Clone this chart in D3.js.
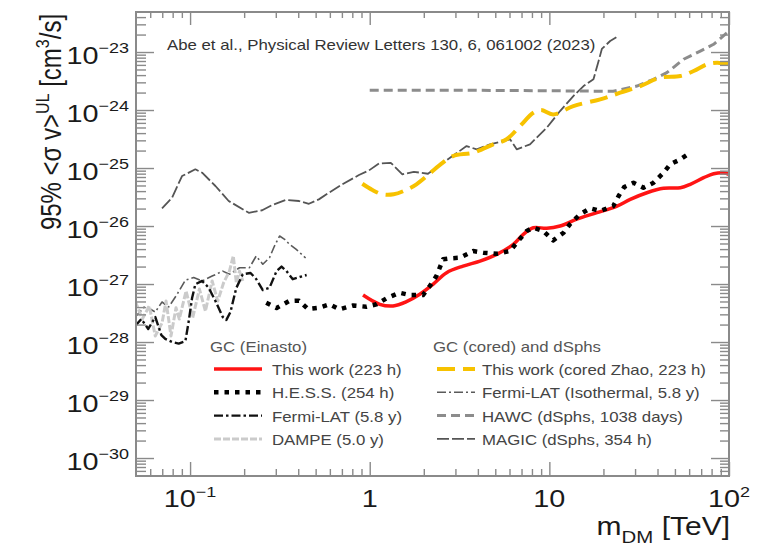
<!DOCTYPE html>
<html><head><meta charset="utf-8">
<script src="https://cdn.jsdelivr.net/npm/d3@7/dist/d3.min.js"></script>
<style>html,body{margin:0;padding:0;background:#fff;} svg{display:block;}</style>
</head><body>
<svg id="chart" width="760" height="550"></svg>
<script>
// ---------------- DATA (mass in TeV, <sigma v> upper limit in cm^3/s) ----------------
const xMajorTicks = [0.1, 1, 10, 100];
const xTickBase = ["10", "1", "10", "10"];
const xTickExp = ["\u22121", "", "", "2"];
const yMajorTicks = [1e-30, 1e-29, 1e-28, 1e-27, 1e-26, 1e-25, 1e-24, 1e-23];
const yTickExp = ["\u221230", "\u221229", "\u221228", "\u221227", "\u221226", "\u221225", "\u221224", "\u221223"];

const thisWorkEinasto = [[0.918,6.46e-28],[1.137,4.47e-28],[1.349,4.18e-28],[1.602,4.96e-28],[1.90,6.64e-28],[2.25,9.9e-28],[2.68,1.57e-27],[3.31,2.04e-27],[4.11,2.49e-27],[5.09,3.25e-27],[6.30,4.83e-27],[7.16,7.19e-27],[8.14,9.35e-27],[9.67,9.12e-27],[11.47,1.0e-26],[14.2,1.31e-26],[18.4,1.70e-26],[23.8,2.21e-26],[28.2,2.88e-26],[34.9,3.75e-26],[43.2,4.47e-26],[53.6,4.57e-26],[60.9,5.24e-26],[72.3,6.81e-26],[82.1,7.97e-26],[93.4,8.3e-26],[100,7.8e-26]];

const hess = [[0.2654,4.77e-28],[0.303,3.86e-28],[0.356,5.09e-28],[0.404,5.15e-28],[0.453,3.70e-28],[0.526,3.90e-28],[0.598,4.47e-28],[0.680,3.66e-28],[0.807,4.26e-28],[0.958,4.06e-28],[1.090,4.47e-28],[1.239,5.66e-28],[1.47,7.08e-28],[1.67,6.46e-28],[1.98,6.46e-28],[2.16,9.24e-28],[2.35,1.37e-27],[2.56,2.67e-27],[2.79,2.77e-27],[3.18,2.84e-27],[3.77,3.70e-27],[4.29,3.47e-27],[5.09,3.33e-27],[6.04,3.70e-27],[6.58,5.15e-27],[7.48,8.2e-27],[8.14,9.35e-27],[9.26,8.2e-27],[10.5,5.66e-27],[12.0,7.66e-27],[13.0,1.07e-26],[14.8,1.59e-26],[16.9,2.02e-26],[19.2,1.82e-26],[22.7,2.21e-26],[24.3,3.29e-26],[26.1,4.70e-26],[29.4,5.58e-26],[33.4,4.57e-26],[38.0,5.58e-26],[43.2,8.3e-26],[47.1,1.16e-25],[53.6,1.41e-25],[60.9,1.84e-25]];

const fermiLat = [[0.0495,1.89e-28],[0.0535,2.49e-28],[0.0585,1.68e-28],[0.064,2.70e-28],[0.0692,1.32e-28],[0.0728,1.13e-28],[0.0794,1.0e-28],[0.0864,9.4e-29],[0.0942,1.04e-28],[0.0983,2.30e-28],[0.1026,5.74e-28],[0.107,9.9e-28],[0.1167,1.13e-27],[0.127,8.63e-28],[0.1384,5.09e-28],[0.152,2.70e-28],[0.159,2.39e-28],[0.1678,3.29e-28],[0.1807,8.5e-28],[0.1965,1.47e-27],[0.217,1.55e-27],[0.2334,1.22e-27],[0.254,7.88e-28],[0.2768,8.63e-28],[0.303,1.67e-27],[0.323,2.00e-27],[0.344,1.67e-27],[0.373,1.21e-27],[0.4074,1.32e-27],[0.4455,1.43e-27]];

const dampe = [[0.0495,5.09e-28],[0.0542,2.49e-28],[0.0593,4.18e-28],[0.064,1.27e-28],[0.0698,2.13e-28],[0.0735,5.09e-28],[0.0783,1.27e-28],[0.0835,3.90e-28],[0.0871,2.49e-28],[0.095,7.57e-28],[0.1034,2.62e-28],[0.1127,8.2e-28],[0.1217,3.42e-28],[0.1327,1.13e-27],[0.1426,5.09e-28],[0.1535,1.04e-27],[0.1656,1.67e-27],[0.174,3.04e-27],[0.181,1.04e-27],[0.1884,1.67e-27],[0.1965,1.13e-27]];

const thisWorkZhao = [[0.910,5.36e-26],[1.035,4.18e-26],[1.177,3.52e-26],[1.36,3.52e-26],[1.567,4.09e-26],[1.82,5.24e-26],[2.11,7.57e-26],[2.46,1.13e-25],[2.91,1.61e-25],[3.77,1.84e-25],[4.87,2.56e-25],[5.78,3.13e-25],[6.87,5.3e-25],[8.14,8.97e-25],[8.99,1.0e-24],[10.5,8.4e-25],[13.6,1.17e-24],[19.2,1.53e-24],[24.8,1.99e-24],[32.1,2.59e-24],[41.4,3.61e-24],[53.6,3.86e-24],[63.6,4.70e-24],[75.5,6.13e-24],[85.9,6.53e-24],[100,6.13e-24]];

const fermiIso = [[0.0495,2.70e-28],[0.0563,4.18e-28],[0.064,3.29e-28],[0.0698,4.9e-28],[0.076,4.01e-28],[0.0849,6.73e-28],[0.0942,1.17e-27],[0.1047,1.29e-27],[0.1167,1.13e-27],[0.1327,1.37e-27],[0.152,1.67e-27],[0.1656,1.47e-27],[0.1884,1.91e-27],[0.214,1.91e-27],[0.2334,3.04e-27],[0.254,2.19e-27],[0.2768,2.84e-27],[0.295,4.52e-27],[0.315,6.73e-27],[0.336,5.90e-27],[0.358,4.83e-27],[0.390,3.96e-27],[0.4397,2.81e-27]];

const hawc = [[1.0,2.2e-24],[3.0,2.2e-24],[10,2.15e-24],[22.7,2.1e-24],[30.7,2.59e-24],[38.0,3.38e-24],[45.1,4.40e-24],[55.9,7.5e-24],[69.2,1.04e-23],[82.1,1.36e-23],[100,2.3e-23]];

const magic = [[0.0698,2.02e-26],[0.0794,3.08e-26],[0.0902,7.28e-26],[0.107,9.5e-26],[0.1167,8.3e-26],[0.1384,4.9e-26],[0.164,2.7e-26],[0.2123,1.69e-26],[0.252,1.87e-26],[0.2866,2.30e-26],[0.340,2.81e-26],[0.404,2.70e-26],[0.4586,2.42e-26],[0.521,2.88e-26],[0.593,3.75e-26],[0.704,5.24e-26],[0.871,7.57e-26],[0.991,9.1e-26],[1.127,1.20e-25],[1.31,1.23e-25],[1.52,7.8e-26],[1.76,8.6e-26],[2.11,7.97e-26],[2.56,1.23e-25],[3.46,2.39e-25],[3.94,2.10e-25],[4.67,2.56e-25],[5.54,2.92e-25],[6.04,3.13e-25],[6.58,2.10e-25],[7.80,2.56e-25],[9.67,4.95e-25],[11.47,9.6e-25],[13.6,1.74e-24],[15.5,2.59e-24],[17.6,3.38e-24],[18.8,7.0e-24],[19.6,1.13e-23],[21.8,1.55e-23],[24.2,1.89e-23]];

const legendLeftTitle = "GC (Einasto)";
const legendLeftLabels = ["This work (223 h)", "H.E.S.S. (254 h)", "Fermi-LAT (5.8 y)", "DAMPE (5.0 y)"];
const legendRightTitle = "GC (cored) and dSphs";
const legendRightLabels = ["This work (cored Zhao, 223 h)", "Fermi-LAT (Isothermal, 5.8 y)", "HAWC (dSphs, 1038 days)", "MAGIC (dSphs, 354 h)"];
const citation = "Abe et al., Physical Review Letters 130, 6, 061002 (2023)";

// ---------------- DRAWING ----------------
const svg = d3.select("#chart");
const L = 136, R = 729, T = 12, B = 476;
const SX = 1.2; // horizontal text stretch of the reference
const FONT = "'Liberation Sans', Arial, Helvetica, sans-serif";

const x = d3.scaleLog().domain([0.05, 100]).range([L, R]);
const y = d3.scaleLog().domain([Math.pow(10, -30.31), Math.pow(10, -22.31)]).range([B, T]);

const styles = {
  thisWorkEinasto: {stroke: "#ff1414", width: 3.5, dash: null, curve: d3.curveCatmullRom},
  hess: {stroke: "#000", width: 4.5, dash: "4.5 6", curve: d3.curveLinear},
  fermiLat: {stroke: "#111", width: 2.4, dash: "9 3 2.5 3", curve: d3.curveLinear},
  dampe: {stroke: "#cbcbcb", width: 3, dash: "7 2", curve: d3.curveLinear},
  thisWorkZhao: {stroke: "#f7c200", width: 4, dash: "18 8", curve: d3.curveCatmullRom},
  fermiIso: {stroke: "#5a5a5a", width: 1.6, dash: "9 3 2 3", curve: d3.curveLinear},
  hawc: {stroke: "#8c8c8c", width: 3, dash: "9 5", curve: d3.curveLinear},
  magic: {stroke: "#555", width: 1.8, dash: "12 3", curve: d3.curveLinear}
};
const seriesData = {thisWorkEinasto, hess, fermiLat, dampe, thisWorkZhao, fermiIso, hawc, magic};
const drawOrder = ["magic", "fermiIso", "hawc", "thisWorkZhao", "dampe", "fermiLat", "thisWorkEinasto", "hess"];

svg.append("defs").append("clipPath").attr("id", "clip")
  .append("rect").attr("x", L).attr("y", T).attr("width", R - L).attr("height", B - T);

const plot = svg.append("g").attr("clip-path", "url(#clip)");
drawOrder.forEach(k => {
  const s = styles[k];
  const line = d3.line().x(d => x(d[0])).y(d => y(d[1])).curve(s.curve);
  plot.append("path").datum(seriesData[k]).attr("d", line)
    .attr("fill", "none").attr("stroke", s.stroke).attr("stroke-width", s.width)
    .attr("stroke-dasharray", s.dash).attr("stroke-linejoin", "round");
});

// ---------- axes (ticks inward on all four sides) ----------
const tickColor = "#8a8a8a";
function minorTicks(lo, hi) {
  const out = [];
  for (let e = Math.floor(Math.log10(lo)) - 1; e <= Math.ceil(Math.log10(hi)); e++) {
    for (let m = 2; m <= 9; m++) {
      const v = m * Math.pow(10, e);
      if (v >= lo * 1.0001 && v <= hi * 0.9999) out.push(v);
    }
  }
  return out;
}
const xd = x.domain(), yd = y.domain();
const xMinor = minorTicks(xd[0], xd[1]);
const yMinor = minorTicks(yd[0], yd[1]);

function styleAxis(g) {
  g.select(".domain").remove();
  g.selectAll(".tick line").attr("stroke", tickColor).attr("stroke-width", 1.4);
  g.selectAll("text").remove();
}
svg.append("g").attr("transform", `translate(0,${B})`).call(d3.axisBottom(x).tickValues(xMinor).tickSize(-7).tickFormat("")).call(styleAxis);
svg.append("g").attr("transform", `translate(0,${B})`).call(d3.axisBottom(x).tickValues(xMajorTicks).tickSize(-14).tickFormat("")).call(styleAxis);
svg.append("g").attr("transform", `translate(0,${T})`).call(d3.axisTop(x).tickValues(xMinor).tickSize(-6).tickFormat("")).call(styleAxis);
svg.append("g").attr("transform", `translate(0,${T})`).call(d3.axisTop(x).tickValues(xMajorTicks).tickSize(-13).tickFormat("")).call(styleAxis);
svg.append("g").attr("transform", `translate(${L},0)`).call(d3.axisLeft(y).tickValues(yMinor).tickSize(-10).tickFormat("")).call(styleAxis);
svg.append("g").attr("transform", `translate(${L},0)`).call(d3.axisLeft(y).tickValues(yMajorTicks).tickSize(-18).tickFormat("")).call(styleAxis);
svg.append("g").attr("transform", `translate(${R},0)`).call(d3.axisRight(y).tickValues(yMinor).tickSize(-9).tickFormat("")).call(styleAxis);
svg.append("g").attr("transform", `translate(${R},0)`).call(d3.axisRight(y).tickValues(yMajorTicks).tickSize(-18).tickFormat("")).call(styleAxis);

svg.append("rect").attr("x", L).attr("y", T).attr("width", R - L).attr("height", B - T)
  .attr("fill", "none").attr("stroke", tickColor).attr("stroke-width", 2);

// text helper with horizontal stretch
function stext(px, py, anchor, size, fill) {
  return svg.append("text")
    .attr("transform", `translate(${px},${py}) scale(${SX},1)`)
    .attr("text-anchor", anchor).attr("font-family", FONT)
    .attr("font-size", size).attr("fill", fill);
}

// x tick labels
xMajorTicks.forEach((v, i) => {
  const t = stext(x(v), 507, "middle", 24, "#1a1a1a");
  t.append("tspan").text(xTickBase[i]);
  if (xTickExp[i]) t.append("tspan").attr("dy", -10.5).attr("font-size", 15).text(xTickExp[i]);
});
// y tick labels
yMajorTicks.forEach((v, i) => {
  const t = stext(129, y(v) + 12, "end", 24, "#1a1a1a");
  t.append("tspan").text("10");
  t.append("tspan").attr("dy", -11.5).attr("font-size", 15).text(yTickExp[i]);
});

// x axis title
{
  const t = stext(R + 1, 535, "end", 25, "#1a1a1a");
  t.append("tspan").text("m");
  t.append("tspan").attr("dy", 8).attr("font-size", 17).text("DM");
  t.append("tspan").attr("dy", -8).text(" [TeV]");
}
// y axis title
{
  const t = svg.append("text")
    .attr("transform", `translate(61,122) scale(${SX},1) rotate(-90)`)
    .attr("text-anchor", "middle").attr("font-family", FONT)
    .attr("font-size", 24).attr("fill", "#1a1a1a");
  t.append("tspan").text("95% <\u03C3 v>");
  t.append("tspan").attr("dy", -10).attr("font-size", 16).text("UL");
  t.append("tspan").attr("dy", 10).text(" [cm");
  t.append("tspan").attr("dy", -10).attr("font-size", 16).text("3");
  t.append("tspan").attr("dy", 10).text("/s]");
}

// citation
stext(167, 50, "start", 14, "#333").text(citation);

// legends
function legend(titleX, lineX0, lineX1, textX, title, labels, keys) {
  stext(titleX, 352, "start", 14, "#555").text(title);
  labels.forEach((lab, i) => {
    const yy = 375 + i * 23.3;
    const s = styles[keys[i]];
    svg.append("line").attr("x1", lineX0).attr("x2", lineX1)
      .attr("y1", yy - 6).attr("y2", yy - 6)
      .attr("stroke", s.stroke).attr("stroke-width", s.width).attr("stroke-dasharray", s.dash);
    stext(textX, yy, "start", 14, "#444").text(lab);
  });
}
legend(210, 214, 262, 272, legendLeftTitle, legendLeftLabels, ["thisWorkEinasto", "hess", "fermiLat", "dampe"]);
legend(433, 437, 475, 482, legendRightTitle, legendRightLabels, ["thisWorkZhao", "fermiIso", "hawc", "magic"]);
</script>
</body></html>
